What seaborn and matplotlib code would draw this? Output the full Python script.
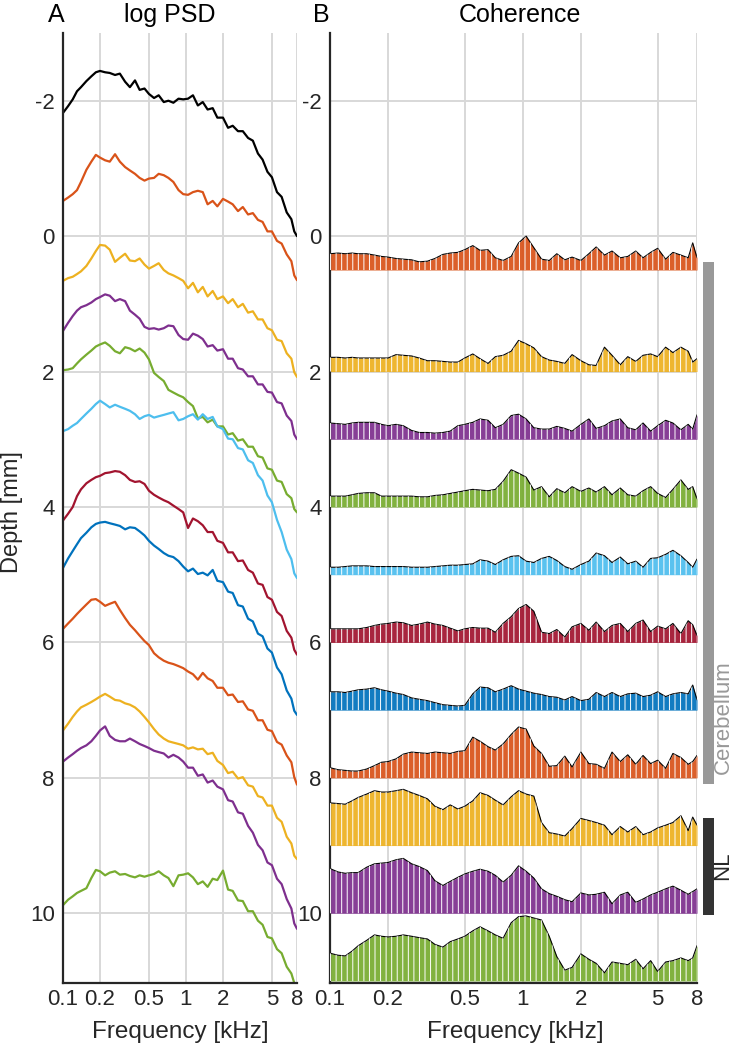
import matplotlib
matplotlib.use("Agg")
import numpy as np
import matplotlib.pyplot as plt
import matplotlib.transforms as mtransforms
from matplotlib.patches import Rectangle
from matplotlib.ticker import NullFormatter
import seaborn as sns

# frequency axis (kHz)
freq = [0.100, 0.110, 0.120, 0.130, 0.140, 0.155, 0.170, 0.185, 0.200, 0.220,
        0.240, 0.265, 0.290, 0.320, 0.350, 0.385, 0.420, 0.460, 0.500, 0.550,
        0.600, 0.660, 0.720, 0.790, 0.870, 0.950, 1.04, 1.14, 1.25, 1.37,
        1.50, 1.65, 1.80, 2.00, 2.20, 2.40, 2.65, 2.90, 3.20, 3.50,
        3.85, 4.20, 4.60, 5.00, 5.50, 6.00, 6.60, 7.20, 7.60, 8.00]

# log PSD traces, drawn at channel depth (mm)
psd_black = [-1.82, -1.92, -2.02, -2.14, -2.20, -2.29, -2.36, -2.42, -2.44, -2.42,
             -2.41, -2.38, -2.40, -2.28, -2.20, -2.30, -2.16, -2.18, -2.10, -2.04,
             -2.08, -1.98, -2.00, -1.97, -2.03, -2.02, -2.03, -2.08, -1.93, -1.98,
             -1.87, -1.89, -1.75, -1.75, -1.60, -1.63, -1.55, -1.55, -1.45, -1.41,
             -1.22, -1.13, -0.95, -0.87, -0.65, -0.58, -0.35, -0.25, -0.07, 0.00]
psd_orange1 = [-0.52, -0.57, -0.62, -0.68, -0.80, -0.98, -1.10, -1.20, -1.16, -1.12,
               -1.10, -1.21, -1.10, -1.02, -0.97, -0.92, -0.86, -0.82, -0.85, -0.86,
               -0.92, -0.90, -0.86, -0.80, -0.68, -0.62, -0.61, -0.65, -0.67, -0.65,
               -0.47, -0.52, -0.44, -0.55, -0.51, -0.47, -0.37, -0.43, -0.32, -0.34,
               -0.24, -0.21, -0.07, -0.07, 0.07, 0.11, 0.27, 0.37, 0.58, 0.65]
psd_yellow1 = [0.66, 0.62, 0.60, 0.56, 0.52, 0.44, 0.33, 0.22, 0.13, 0.14,
               0.20, 0.38, 0.32, 0.26, 0.36, 0.37, 0.33, 0.42, 0.48, 0.44,
               0.40, 0.50, 0.55, 0.58, 0.62, 0.66, 0.77, 0.69, 0.83, 0.75,
               0.89, 0.81, 0.93, 0.89, 0.99, 0.93, 1.05, 1.00, 1.13, 1.11,
               1.23, 1.23, 1.36, 1.39, 1.53, 1.55, 1.73, 1.81, 2.01, 2.08]
psd_purple1 = [1.40, 1.28, 1.18, 1.10, 1.05, 1.02, 0.98, 0.93, 0.90, 0.86,
               0.88, 0.96, 0.93, 0.96, 1.10, 1.16, 1.22, 1.34, 1.37, 1.36,
               1.38, 1.36, 1.32, 1.33, 1.46, 1.52, 1.53, 1.44, 1.47, 1.52,
               1.63, 1.61, 1.69, 1.67, 1.81, 1.81, 1.95, 1.97, 2.07, 2.07,
               2.19, 2.19, 2.30, 2.31, 2.45, 2.47, 2.65, 2.73, 2.93, 3.00]
psd_green1 = [1.98, 1.97, 1.95, 1.88, 1.82, 1.75, 1.69, 1.63, 1.60, 1.57,
              1.62, 1.70, 1.73, 1.64, 1.66, 1.70, 1.66, 1.72, 1.82, 2.02,
              2.08, 2.14, 2.27, 2.31, 2.35, 2.38, 2.45, 2.51, 2.69, 2.67,
              2.75, 2.71, 2.81, 2.81, 2.93, 2.91, 3.02, 3.00, 3.11, 3.11,
              3.25, 3.27, 3.43, 3.45, 3.61, 3.63, 3.81, 3.87, 4.03, 4.08]
psd_lightblue = [2.88, 2.85, 2.80, 2.76, 2.70, 2.62, 2.55, 2.48, 2.43, 2.48,
                 2.53, 2.49, 2.52, 2.55, 2.58, 2.63, 2.70, 2.66, 2.64, 2.68,
                 2.66, 2.64, 2.62, 2.60, 2.72, 2.70, 2.66, 2.63, 2.71, 2.63,
                 2.70, 2.67, 2.81, 2.85, 2.99, 3.00, 3.13, 3.15, 3.31, 3.35,
                 3.53, 3.61, 3.83, 3.93, 4.19, 4.37, 4.63, 4.77, 4.98, 5.05]
psd_darkred = [4.20, 4.10, 4.00, 3.84, 3.74, 3.65, 3.60, 3.56, 3.54, 3.50,
               3.49, 3.47, 3.48, 3.53, 3.60, 3.63, 3.62, 3.66, 3.76, 3.82,
               3.86, 3.90, 3.93, 3.98, 4.03, 4.08, 4.31, 4.17, 4.21, 4.27,
               4.37, 4.37, 4.50, 4.53, 4.67, 4.67, 4.80, 4.79, 4.93, 4.97,
               5.13, 5.15, 5.33, 5.37, 5.55, 5.61, 5.83, 5.93, 6.11, 6.18]
psd_blue = [4.90, 4.76, 4.65, 4.55, 4.46, 4.38, 4.30, 4.25, 4.23, 4.22,
            4.24, 4.26, 4.28, 4.33, 4.30, 4.31, 4.36, 4.42, 4.50, 4.57,
            4.62, 4.68, 4.72, 4.74, 4.80, 4.88, 4.95, 4.91, 4.99, 4.97,
            5.01, 4.93, 5.09, 5.11, 5.25, 5.27, 5.45, 5.47, 5.65, 5.69,
            5.87, 5.91, 6.09, 6.15, 6.37, 6.47, 6.71, 6.83, 7.01, 7.07]
psd_orange2 = [5.80, 5.72, 5.65, 5.58, 5.52, 5.44, 5.37, 5.36, 5.40, 5.46,
               5.43, 5.40, 5.52, 5.64, 5.74, 5.82, 5.90, 5.98, 6.04, 6.16,
               6.22, 6.27, 6.30, 6.32, 6.35, 6.38, 6.43, 6.47, 6.55, 6.45,
               6.53, 6.57, 6.67, 6.67, 6.78, 6.77, 6.88, 6.87, 6.99, 7.01,
               7.15, 7.15, 7.29, 7.31, 7.47, 7.51, 7.67, 7.77, 7.99, 8.10]
psd_yellow2 = [7.30, 7.20, 7.10, 7.02, 6.96, 6.92, 6.88, 6.84, 6.80, 6.76,
               6.80, 6.85, 6.86, 6.90, 6.92, 6.96, 7.02, 7.10, 7.18, 7.28,
               7.36, 7.42, 7.46, 7.48, 7.50, 7.52, 7.57, 7.55, 7.58, 7.57,
               7.65, 7.63, 7.75, 7.81, 7.93, 7.91, 8.01, 7.99, 8.11, 8.13,
               8.27, 8.29, 8.41, 8.41, 8.59, 8.65, 8.87, 8.97, 9.15, 9.20]
psd_purple2 = [7.76, 7.70, 7.65, 7.60, 7.56, 7.52, 7.46, 7.38, 7.30, 7.24,
               7.38, 7.44, 7.46, 7.46, 7.42, 7.46, 7.50, 7.53, 7.56, 7.60,
               7.62, 7.64, 7.70, 7.66, 7.70, 7.76, 7.85, 7.85, 7.97, 7.95,
               8.07, 8.04, 8.13, 8.17, 8.33, 8.35, 8.51, 8.53, 8.71, 8.81,
               8.99, 9.07, 9.25, 9.29, 9.49, 9.57, 9.79, 9.93, 10.15, 10.23]
psd_green2 = [9.88, 9.80, 9.75, 9.70, 9.67, 9.63, 9.48, 9.36, 9.38, 9.44,
              9.40, 9.38, 9.43, 9.42, 9.45, 9.47, 9.44, 9.46, 9.44, 9.42,
              9.38, 9.44, 9.48, 9.60, 9.44, 9.43, 9.41, 9.47, 9.57, 9.53,
              9.61, 9.49, 9.51, 9.37, 9.65, 9.67, 9.81, 9.82, 9.97, 9.97,
              10.11, 10.17, 10.35, 10.37, 10.53, 10.59, 10.79, 10.89, 11.03, 11.06]

psd_traces = [psd_black, psd_orange1, psd_yellow1, psd_purple1, psd_green1, psd_lightblue,
              psd_darkred, psd_blue, psd_orange2, psd_yellow2, psd_purple2, psd_green2]
psd_colors = ['#000000', '#D95319', '#EDB120', '#7E2F8E', '#77AC30', '#4DBEEE',
              '#A2142F', '#0072BD', '#D95319', '#EDB120', '#7E2F8E', '#77AC30']

# coherence with the reference channel, drawn upward from each channel depth
coh_base = [0.5, 2, 3, 4, 5, 6, 7, 8, 9, 10, 11]
coh_orange1 = [0.24, 0.25, 0.24, 0.25, 0.24, 0.24, 0.22, 0.20, 0.19, 0.17,
               0.16, 0.15, 0.12, 0.13, 0.17, 0.23, 0.25, 0.26, 0.30, 0.36,
               0.29, 0.30, 0.18, 0.14, 0.20, 0.40, 0.50, 0.33, 0.16, 0.14,
               0.24, 0.15, 0.19, 0.14, 0.24, 0.34, 0.22, 0.28, 0.18, 0.20,
               0.28, 0.18, 0.26, 0.32, 0.16, 0.26, 0.22, 0.18, 0.40, 0.18]
coh_yellow1 = [0.21, 0.21, 0.20, 0.21, 0.20, 0.20, 0.20, 0.20, 0.20, 0.25,
               0.24, 0.23, 0.20, 0.16, 0.16, 0.15, 0.14, 0.14, 0.20, 0.26,
               0.19, 0.12, 0.22, 0.24, 0.30, 0.46, 0.41, 0.35, 0.22, 0.17,
               0.15, 0.12, 0.25, 0.16, 0.10, 0.09, 0.36, 0.24, 0.10, 0.22,
               0.15, 0.24, 0.26, 0.22, 0.36, 0.28, 0.36, 0.30, 0.14, 0.19]
coh_purple1 = [0.24, 0.23, 0.22, 0.24, 0.25, 0.25, 0.25, 0.22, 0.20, 0.22,
               0.20, 0.13, 0.10, 0.10, 0.09, 0.10, 0.12, 0.20, 0.22, 0.25,
               0.30, 0.28, 0.17, 0.22, 0.35, 0.37, 0.30, 0.17, 0.15, 0.15,
               0.19, 0.16, 0.12, 0.22, 0.30, 0.16, 0.20, 0.27, 0.30, 0.17,
               0.14, 0.24, 0.12, 0.20, 0.28, 0.24, 0.14, 0.22, 0.15, 0.36]
coh_green1 = [0.16, 0.16, 0.16, 0.18, 0.20, 0.21, 0.21, 0.16, 0.16, 0.16,
              0.16, 0.16, 0.15, 0.15, 0.17, 0.18, 0.20, 0.22, 0.24, 0.26,
              0.25, 0.24, 0.26, 0.38, 0.55, 0.50, 0.44, 0.25, 0.30, 0.15,
              0.27, 0.21, 0.30, 0.23, 0.28, 0.22, 0.30, 0.18, 0.28, 0.18,
              0.16, 0.24, 0.30, 0.20, 0.14, 0.26, 0.40, 0.26, 0.30, 0.12]
coh_lightblue = [0.11, 0.11, 0.12, 0.13, 0.13, 0.13, 0.12, 0.12, 0.12, 0.12,
                 0.12, 0.11, 0.11, 0.11, 0.12, 0.13, 0.14, 0.14, 0.15, 0.16,
                 0.22, 0.20, 0.15, 0.22, 0.27, 0.28, 0.20, 0.18, 0.24, 0.27,
                 0.21, 0.12, 0.08, 0.15, 0.20, 0.32, 0.28, 0.18, 0.26, 0.16,
                 0.20, 0.11, 0.24, 0.25, 0.30, 0.36, 0.28, 0.18, 0.11, 0.23]
coh_darkred = [0.20, 0.20, 0.20, 0.20, 0.20, 0.22, 0.25, 0.27, 0.28, 0.30,
               0.29, 0.25, 0.27, 0.30, 0.27, 0.25, 0.21, 0.17, 0.20, 0.22,
               0.21, 0.21, 0.15, 0.28, 0.38, 0.50, 0.56, 0.46, 0.15, 0.13,
               0.19, 0.08, 0.23, 0.28, 0.18, 0.30, 0.16, 0.25, 0.28, 0.16,
               0.28, 0.33, 0.16, 0.24, 0.20, 0.28, 0.13, 0.32, 0.26, 0.10]
coh_blue = [0.27, 0.27, 0.26, 0.28, 0.30, 0.31, 0.33, 0.30, 0.28, 0.25,
            0.23, 0.18, 0.16, 0.14, 0.11, 0.08, 0.07, 0.06, 0.07, 0.24,
            0.34, 0.33, 0.27, 0.31, 0.36, 0.31, 0.28, 0.25, 0.23, 0.20,
            0.19, 0.15, 0.20, 0.14, 0.16, 0.26, 0.20, 0.26, 0.20, 0.24,
            0.25, 0.20, 0.22, 0.27, 0.20, 0.24, 0.26, 0.24, 0.37, 0.15]
coh_orange2 = [0.15, 0.12, 0.11, 0.10, 0.10, 0.13, 0.18, 0.23, 0.24, 0.28,
               0.35, 0.38, 0.37, 0.36, 0.38, 0.37, 0.36, 0.39, 0.40, 0.60,
               0.54, 0.46, 0.41, 0.50, 0.64, 0.75, 0.72, 0.47, 0.36, 0.17,
               0.18, 0.32, 0.16, 0.38, 0.21, 0.20, 0.14, 0.38, 0.24, 0.34,
               0.20, 0.33, 0.21, 0.26, 0.14, 0.36, 0.30, 0.20, 0.24, 0.33]
coh_yellow2 = [0.63, 0.62, 0.61, 0.66, 0.71, 0.76, 0.81, 0.79, 0.79, 0.81,
               0.83, 0.78, 0.74, 0.69, 0.58, 0.53, 0.60, 0.54, 0.58, 0.66,
               0.78, 0.74, 0.67, 0.60, 0.72, 0.81, 0.76, 0.73, 0.34, 0.19,
               0.17, 0.14, 0.25, 0.40, 0.37, 0.34, 0.30, 0.16, 0.28, 0.20,
               0.28, 0.16, 0.20, 0.26, 0.30, 0.34, 0.44, 0.22, 0.42, 0.30]
coh_purple2 = [0.66, 0.61, 0.59, 0.60, 0.60, 0.68, 0.73, 0.74, 0.75, 0.79,
               0.81, 0.73, 0.69, 0.63, 0.48, 0.41, 0.47, 0.53, 0.58, 0.62,
               0.65, 0.62, 0.56, 0.46, 0.56, 0.70, 0.62, 0.52, 0.36, 0.29,
               0.25, 0.20, 0.17, 0.30, 0.27, 0.28, 0.31, 0.14, 0.27, 0.31,
               0.16, 0.21, 0.27, 0.31, 0.36, 0.40, 0.34, 0.28, 0.32, 0.36]
coh_green2 = [0.41, 0.38, 0.37, 0.44, 0.52, 0.60, 0.68, 0.66, 0.65, 0.66,
              0.68, 0.66, 0.64, 0.62, 0.54, 0.50, 0.58, 0.62, 0.66, 0.74,
              0.80, 0.74, 0.68, 0.63, 0.86, 0.95, 0.96, 0.93, 0.90, 0.66,
              0.36, 0.16, 0.20, 0.40, 0.32, 0.26, 0.12, 0.28, 0.26, 0.24,
              0.32, 0.18, 0.30, 0.14, 0.28, 0.30, 0.34, 0.30, 0.34, 0.52]

coh_traces = [coh_orange1, coh_yellow1, coh_purple1, coh_green1, coh_lightblue, coh_darkred,
              coh_blue, coh_orange2, coh_yellow2, coh_purple2, coh_green2]
coh_colors = psd_colors[1:]

# anatomical regions (depth range, mm)
region_names = ['Cerebellum', 'NL']
region_top = [0.38, 8.59]
region_bottom = [8.09, 10.02]
region_label_depth = [7.1, 9.3]
region_colors = ['#999999', '#333333']

major_ticks = [0.1, 0.2, 0.5, 1, 2, 5, 8]
major_labels = ['0.1', '0.2', '0.5', '1', '2', '5', '8']
minor_ticks = [0.3, 0.4, 0.6, 0.7, 0.8, 0.9, 3, 4, 6, 7]
depth_ticks = [-2, 0, 2, 4, 6, 8, 10]

sns.set_theme(style="white")
plt.rcParams['font.family'] = ['Liberation Sans', 'DejaVu Sans']
plt.rcParams['axes.unicode_minus'] = False
plt.rcParams['hatch.linewidth'] = 0.7
plt.rcParams['hatch.color'] = 'white'

W, H = 733, 1050
ink = '#262626'
fig = plt.figure(figsize=(W / 100, H / 100), dpi=100)


def px_box(x0, x1, y0, y1):
    return [x0 / W, 1 - y1 / H, (x1 - x0) / W, (y1 - y0) / H]


ax_psd = fig.add_axes(px_box(63, 297, 33, 983))
ax_coh = fig.add_axes(px_box(330, 697, 33, 983))

# panel A: log PSD
for vals, col in zip(psd_traces, psd_colors):
    sns.lineplot(x=freq, y=vals, color=col, lw=1.6, ax=ax_psd)

# panel B: coherence
for base, vals, col in zip(coh_base, coh_traces, coh_colors):
    top = base - np.array(vals)
    ax_coh.fill_between(freq, base, top, color=col, lw=0, alpha=0.93, zorder=2)
    sns.lineplot(x=freq, y=top, color='black', lw=0.8, ax=ax_coh, zorder=3)
    ax_coh.fill_between(freq, base, top, facecolor='none', edgecolor='white',
                        hatch='|||', lw=0, zorder=4)

for ax in (ax_psd, ax_coh):
    ax.set_xscale('log')
    ax.set_xlim(0.1, 8)
    ax.set_ylim(11.03, -3.0)
    ax.set_xticks(major_ticks)
    ax.set_xticklabels(major_labels)
    ax.set_xticks(minor_ticks, minor=True)
    ax.xaxis.set_minor_formatter(NullFormatter())
    ax.set_yticks(depth_ticks)
    ax.set_yticklabels([str(t) for t in depth_ticks])
    ax.set_axisbelow(True)
    ax.grid(True, which='major', color='#d8d8d8', lw=1.4)
    ax.grid(False, which='minor')
    ax.tick_params(which='major', direction='in', length=7, width=1.3,
                   color=ink, labelcolor=ink, labelsize=16)
    ax.tick_params(axis='y', pad=6)
    ax.tick_params(axis='x', pad=4)
    ax.tick_params(which='minor', direction='in', length=4, width=1.0, color=ink)
    for side in ('top', 'right'):
        ax.spines[side].set_visible(False)
    for side in ('left', 'bottom'):
        ax.spines[side].set_color(ink)
        ax.spines[side].set_linewidth(1.6)
    ax.set_xlabel('')
    ax.set_ylabel('')

# region bars on the right of panel B
blend = mtransforms.blended_transform_factory(ax_coh.transAxes, ax_coh.transData)
for name, y0, y1, yl, col in zip(region_names, region_top, region_bottom,
                                 region_label_depth, region_colors):
    ax_coh.add_patch(Rectangle((1.016, y0), 0.03, y1 - y0, transform=blend,
                               color=col, clip_on=False, lw=0))
    ax_coh.text(1.071, yl, name, transform=blend, rotation=90, ha='center',
                va='center', fontsize=16, color=col if name != 'NL' else ink)

# panel letters, titles and axis labels
base_y = 1 - 21.7 / H
fig.text(56 / W, base_y, 'A', fontsize=18, ha='center', va='baseline', color='black')
fig.text(170 / W, base_y, 'log PSD', fontsize=18, ha='center', va='baseline', color='black')
fig.text(321 / W, base_y, 'B', fontsize=18, ha='center', va='baseline', color='black')
fig.text(520 / W, base_y, 'Coherence', fontsize=18, ha='center', va='baseline', color='black')
fig.text(12 / W, 1 - 512 / H, 'Depth [mm]', fontsize=17, rotation=90,
         ha='center', va='center', color=ink)
fig.text(180 / W, 1 - 1032 / H, 'Frequency [kHz]', fontsize=17.5,
         ha='center', va='center', color=ink)
fig.text(515 / W, 1 - 1032 / H, 'Frequency [kHz]', fontsize=17.5,
         ha='center', va='center', color=ink)

fig.savefig('out.png', dpi=100)
